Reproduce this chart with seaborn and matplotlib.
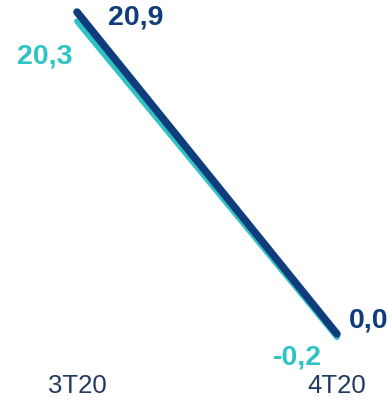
"""Two-quarter slope chart: 3T20 vs 4T20."""

import matplotlib
matplotlib.use("Agg")
import matplotlib.pyplot as plt
import pandas as pd
import seaborn as sns

# ─── Data ──────────────────────────────────────────────────────────────────
quarters = ["3T20", "4T20"]
series_names = ["Teal", "Navy"]
teal_values = [20.3, -0.2]
navy_values = [20.9, 0.0]

NAVY = "#0F3D7C"
TEAL = "#2EC4C6"
TICK_COLOR = "#1F3B63"

sns.set_style("white")
plt.rcParams["font.family"] = ["Liberation Sans", "DejaVu Sans"]

df = pd.DataFrame(
    {
        "x": [0, 1, 0, 1],
        "value": teal_values + navy_values,
        "series": [series_names[0]] * 2 + [series_names[1]] * 2,
    }
)

fig = plt.figure(figsize=(3.88, 4.11), dpi=100)
ax = fig.add_axes([0, 51 / 411, 1, 360 / 411])

for name, color, lw in [("Teal", TEAL, 4.2), ("Navy", NAVY, 5.4)]:
    sns.lineplot(
        data=df[df["series"] == name],
        x="x",
        y="value",
        color=color,
        linewidth=lw,
        solid_capstyle="round",
        ax=ax,
        legend=False,
    )

# value labels (offsets in pixels, y positive = up)
label_specs = [
    (0, navy_values[0], NAVY, (31, -6), "left"),
    (0, teal_values[0], TEAL, (-5, -35), "right"),
    (1, navy_values[1], NAVY, (12, 14), "left"),
    (1, teal_values[1], TEAL, (-15, -20), "right"),
]
for x, v, color, off, ha in label_specs:
    ax.annotate(
        f"{v:.1f}".replace(".", ","),
        xy=(x, v),
        xytext=off,
        textcoords="offset pixels",
        ha=ha,
        va="center",
        color=color,
        fontsize=20.5,
        fontweight="bold",
    )

ax.set_xlim(-77 / 260, 1 + 51 / 260)
ax.set_ylim(-26 / 15.41, 20.9 + 12 / 15.41)
ax.set_xticks([0, 1])
ax.set_xticklabels(quarters, fontsize=18.5, color=TICK_COLOR)
ax.tick_params(axis="x", length=0, pad=10)
ax.set_yticks([])
ax.set_xlabel("")
ax.set_ylabel("")
sns.despine(ax=ax, left=True, bottom=True)

fig.savefig("out.png", dpi=100)
